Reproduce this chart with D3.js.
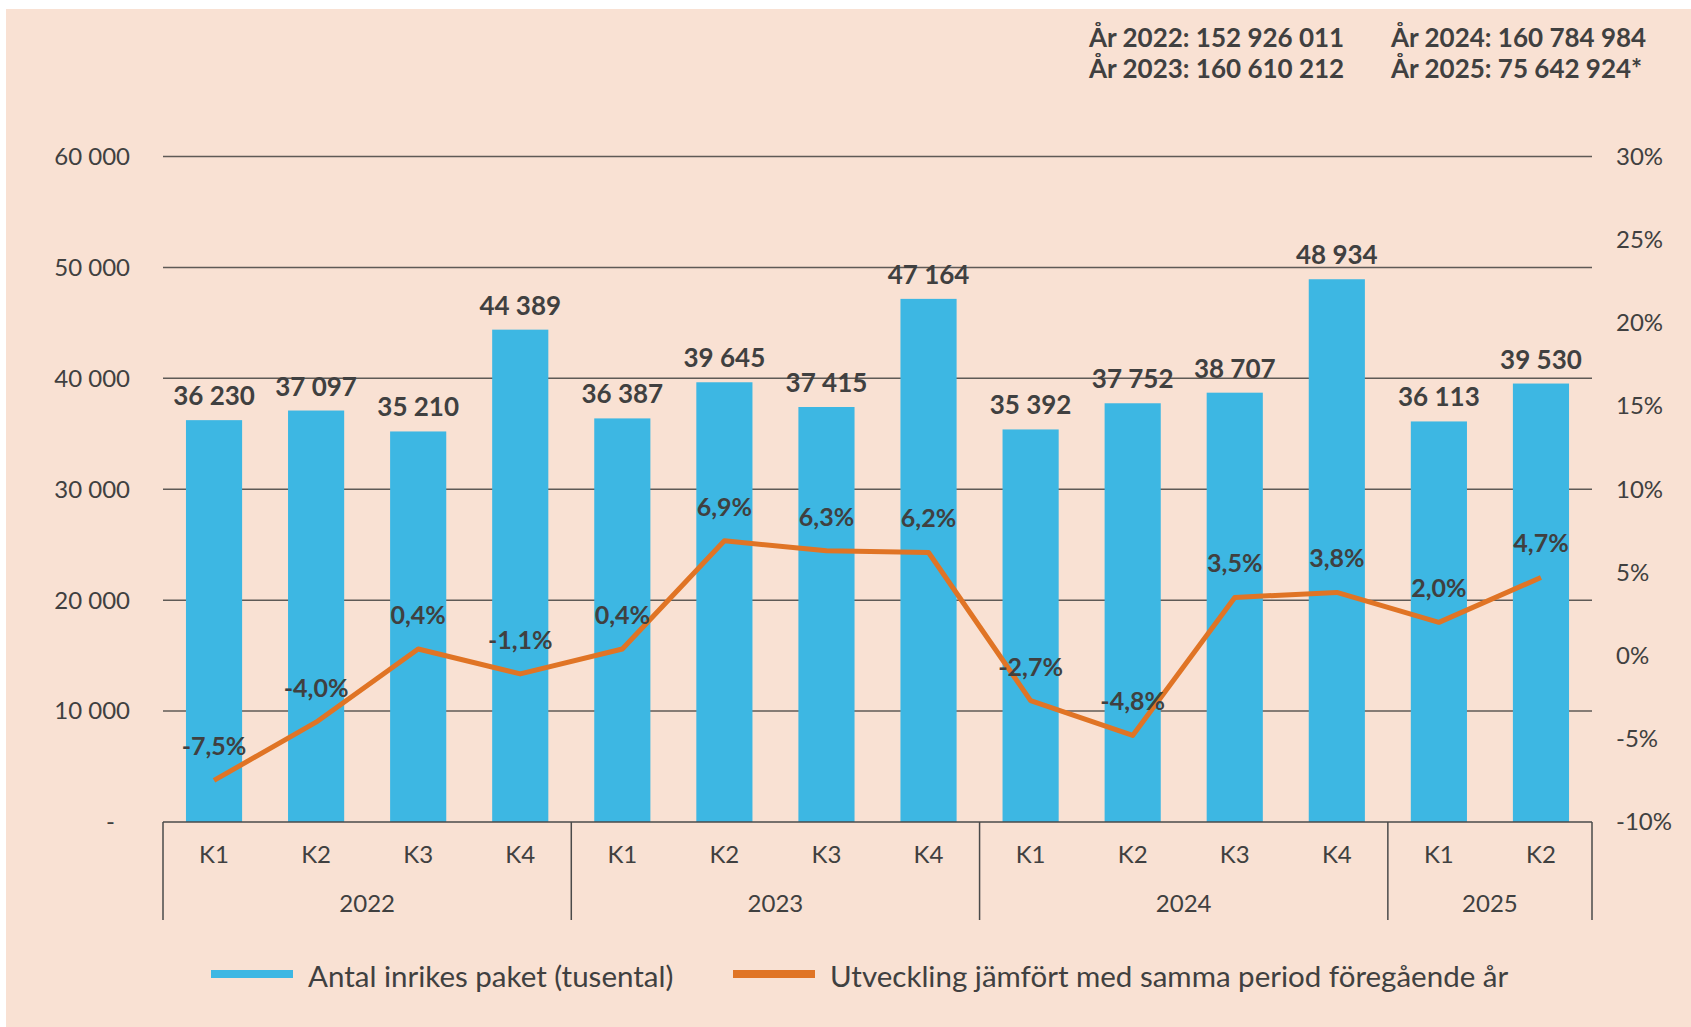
<!DOCTYPE html>
<html>
<head>
<meta charset="utf-8">
<script src="https://cdn.jsdelivr.net/npm/d3@7"></script>
<style>
  body { margin: 0; background: #ffffff; }
  text { font-family: Lato, "Open Sans", sans-serif; fill: #404040; }
</style>
</head>
<body>
<svg width="1691" height="1027"></svg>
<script>
// data
const years = ["2022", "2023", "2024", "2025"];
const quarters = ["K1", "K2", "K3", "K4", "K1", "K2", "K3", "K4", "K1", "K2", "K3", "K4", "K1", "K2"];
const quarterYears = ["2022", "2022", "2022", "2022", "2023", "2023", "2023", "2023", "2024", "2024", "2024", "2024", "2025", "2025"];
const parcels = [36230, 37097, 35210, 44389, 36387, 39645, 37415, 47164, 35392, 37752, 38707, 48934, 36113, 39530];
const growth = [-7.5, -4.0, 0.4, -1.1, 0.4, 6.9, 6.3, 6.2, -2.7, -4.8, 3.5, 3.8, 2.0, 4.7];
const leftTicks = [0, 10000, 20000, 30000, 40000, 50000, 60000];
const rightTicks = [-10, -5, 0, 5, 10, 15, 20, 25, 30];
const yearTotals = [
  ["År 2022: 152 926 011", "År 2024: 160 784 984"],
  ["År 2023: 160 610 212", "År 2025: 75 642 924*"]
];
const legendLabels = ["Antal inrikes paket (tusental)", "Utveckling jämfört med samma period föregående år"];

const barColor = "#3db7e3";
const lineColor = "#e07425";

const svg = d3.select("svg");

// background panel
svg.append("rect")
  .attr("x", 6).attr("y", 9)
  .attr("width", 1685).attr("height", 1018)
  .attr("fill", "#f9e1d3");

const plotLeft = 163, plotRight = 1592, plotTop = 156.5, plotBottom = 822;

// swedish style numbers: space as thousands, comma decimal, plain hyphen
const swe = d3.formatLocale({decimal: ",", thousands: " ", grouping: [3], currency: ["", ""], minus: "-"});
const fmtNum = swe.format(",d");
const fmtPct = swe.format(".1f");

const x = d3.scaleBand()
  .domain(d3.range(parcels.length))
  .range([plotLeft, plotRight])
  .paddingInner(0.45)
  .paddingOuter(0.225);

const y = d3.scaleLinear().domain([0, 60000]).range([plotBottom, plotTop]);
const y2 = d3.scaleLinear().domain([-10, 30]).range([plotBottom, plotTop]);

// gridlines
svg.append("g")
  .selectAll("line")
  .data(leftTicks.filter(d => d > 0))
  .enter().append("line")
    .attr("x1", plotLeft).attr("x2", plotRight)
    .attr("y1", d => y(d)).attr("y2", d => y(d))
    .attr("stroke", "#5f5a56")
    .attr("stroke-width", 1.5);

// left axis labels
svg.append("g")
  .selectAll("text")
  .data(leftTicks)
  .enter().append("text")
    .attr("x", d => d === 0 ? 115 : 130)
    .attr("y", d => y(d))
    .attr("dy", "0.35em")
    .attr("text-anchor", "end")
    .attr("font-size", 24)
    .text(d => d === 0 ? "-" : fmtNum(d));

// right axis labels
svg.append("g")
  .selectAll("text")
  .data(rightTicks)
  .enter().append("text")
    .attr("x", 1616)
    .attr("y", d => y2(d))
    .attr("dy", "0.35em")
    .attr("font-size", 24)
    .text(d => d + "%");

// bars
svg.append("g")
  .selectAll("rect")
  .data(parcels)
  .enter().append("rect")
    .attr("x", (d, i) => x(i))
    .attr("y", d => y(d))
    .attr("width", x.bandwidth())
    .attr("height", d => plotBottom - y(d))
    .attr("fill", barColor);

// bar value labels
svg.append("g")
  .selectAll("text")
  .data(parcels)
  .enter().append("text")
    .attr("x", (d, i) => x(i) + x.bandwidth() / 2)
    .attr("y", d => y(d) - 15)
    .attr("text-anchor", "middle")
    .attr("font-size", 26)
    .attr("font-weight", "bold")
    .text(d => fmtNum(d));

// growth line
const line = d3.line()
  .x((d, i) => x(i) + x.bandwidth() / 2)
  .y(d => y2(d));

svg.append("path")
  .datum(growth)
  .attr("d", line)
  .attr("fill", "none")
  .attr("stroke", lineColor)
  .attr("stroke-width", 5)
  .attr("stroke-linejoin", "round");

// growth labels
svg.append("g")
  .selectAll("text")
  .data(growth)
  .enter().append("text")
    .attr("x", (d, i) => x(i) + x.bandwidth() / 2)
    .attr("y", d => y2(d) - 25)
    .attr("text-anchor", "middle")
    .attr("font-size", 25)
    .attr("font-weight", "bold")
    .text(d => fmtPct(d) + "%");

// x axis: baseline, separators, labels
const axisG = svg.append("g");
axisG.append("line")
  .attr("x1", plotLeft).attr("x2", plotRight)
  .attr("y1", plotBottom).attr("y2", plotBottom)
  .attr("stroke", "#4a4a4a").attr("stroke-width", 1.5);

const step = x.step();
const yearStart = years.map(yr => quarterYears.indexOf(yr));
const sepIdx = yearStart.concat([parcels.length]);
axisG.selectAll("line.sep")
  .data(sepIdx)
  .enter().append("line")
    .attr("class", "sep")
    .attr("x1", i => plotLeft + i * step).attr("x2", i => plotLeft + i * step)
    .attr("y1", plotBottom).attr("y2", 920)
    .attr("stroke", "#4a4a4a").attr("stroke-width", 1.5);

axisG.selectAll("text.q")
  .data(quarters)
  .enter().append("text")
    .attr("class", "q")
    .attr("x", (d, i) => x(i) + x.bandwidth() / 2)
    .attr("y", 863)
    .attr("text-anchor", "middle")
    .attr("font-size", 24)
    .text(d => d);

axisG.selectAll("text.yr")
  .data(years)
  .enter().append("text")
    .attr("class", "yr")
    .attr("x", (d, k) => plotLeft + (sepIdx[k] + sepIdx[k + 1]) / 2 * step)
    .attr("y", 912)
    .attr("text-anchor", "middle")
    .attr("font-size", 24)
    .text(d => d);

// yearly totals, top right
const totG = svg.append("g");
yearTotals.forEach(function(row, r) {
  row.forEach(function(t, c) {
    totG.append("text")
      .attr("x", c === 0 ? 1089 : 1391)
      .attr("y", 47 + r * 31)
      .attr("font-size", 26)
      .attr("font-weight", "bold")
      .text(t);
  });
});

// legend
const legend = svg.append("g");
const legendX = [211, 733];
const legendColors = [barColor, lineColor];
legendLabels.forEach(function(lab, k) {
  legend.append("rect")
    .attr("x", legendX[k]).attr("y", 970)
    .attr("width", 82).attr("height", 8)
    .attr("fill", legendColors[k]);
  legend.append("text")
    .attr("x", legendX[k] + 97)
    .attr("y", 987)
    .attr("font-size", 29.5)
    .text(lab);
});
</script>
</body>
</html>
